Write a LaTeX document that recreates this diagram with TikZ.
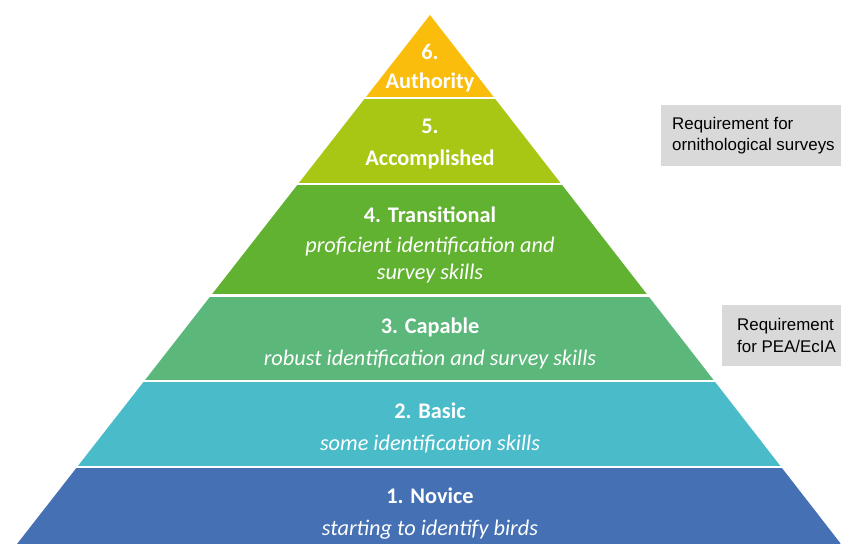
\documentclass[tikz,border=0pt]{standalone}
\usepackage{fontspec}
\setmainfont{Carlito}
\newfontfamily\reqfont{Liberation Sans}
\usetikzlibrary{positioning}

\definecolor{authority}{HTML}{FBBD0B}
\definecolor{accomplished}{HTML}{A8C714}
\definecolor{transitional}{HTML}{62B232}
\definecolor{capable}{HTML}{5CB77A}
\definecolor{basic}{HTML}{4ABBC8}
\definecolor{novice}{HTML}{4570B4}
\definecolor{reqgray}{HTML}{D9D9D9}

\begin{document}
\begin{tikzpicture}[x=1pt,y=-1pt,
  level/.style={text=white,anchor=base,inner sep=0pt,font=\bfseries\fontsize{22.3}{26}\selectfont},
  note/.style={text=white,anchor=base,inner sep=0pt,font=\itshape\fontsize{22.3}{26}\selectfont},
  reqbox/.style={fill=reqgray,anchor=north west,inner sep=0pt,minimum height=61},
  reqtext/.style={anchor=west,align=left,inner sep=0pt,font=\reqfont\fontsize{16.9}{21.5}\selectfont}]
\useasboundingbox (0,0) rectangle (841,544);

% the pyramid, cut into bands
\begin{scope}
\clip (430,15) -- (841,544) -- (17,544) -- cycle;
\foreach \top/\bot/\col in {15/97/authority, 99/183/accomplished, 185/294/transitional,
                           297/380/capable, 382/466/basic, 468/544/novice}
  \fill[\col] (0,\top) rectangle (841,\bot);
\end{scope}

\node[level] (l6a) at (430,59) {6.};
\node[level] (l6) at (430,88) {Authority};
\node[level] (l5a) at (430,133) {5.};
\node[level] (l5) at (430,165) {Accomplished};
\node[level] (l4) at (430,222) {4. Transitional};
\node[note] (n4) at (430,252) {proficient identification and};
\node[note] (n4b) at (430,279) {survey skills};
\node[level] (l3) at (430,333) {3. Capable};
\node[note] (n3) at (430,365) {robust identification and survey skills};
\node[level] (l2) at (430,418) {2. Basic};
\node[note] (n2) at (430,450) {some identification skills};
\node[level] (l1) at (430,503) {1. Novice};
\node[note] (n1) at (430,535) {starting to identify birds};

% requirement boxes on the right
\node[reqbox,minimum width=180] (orn) at (661,105) {};
\node[reqtext] (ornt) at ([xshift=11]orn.west) {Requirement for\\ornithological surveys};
\node[reqbox,minimum width=119] (pea) at (722,305) {};
\node[reqtext] (peat) at ([xshift=15]pea.west) {Requirement\\for PEA/EcIA};
\end{tikzpicture}
\end{document}
